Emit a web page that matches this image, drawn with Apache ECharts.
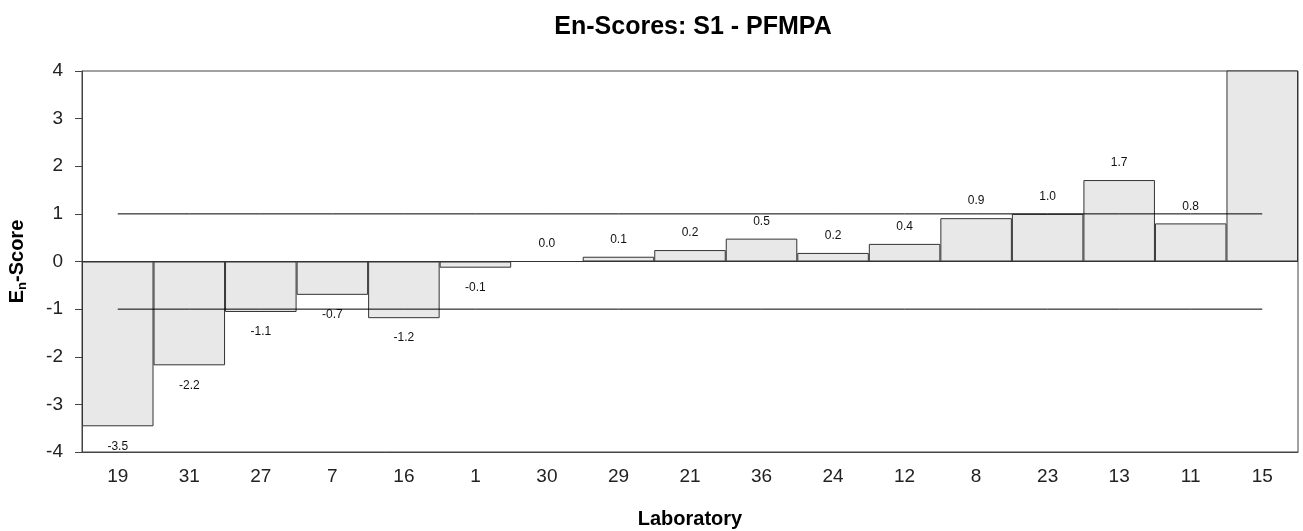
<!DOCTYPE html>
<html>
<head>
<meta charset="utf-8">
<title>En-Scores: S1 - PFMPA</title>
<script src="https://cdn.jsdelivr.net/npm/echarts@6/dist/echarts.min.js"></script>
<style>
  html, body { margin: 0; padding: 0; background: #fff; }
  #chart { width: 1303px; height: 531px; }
</style>
</head>
<body>
<div id="chart"></div>
<script>
// Laboratories in plotted order
const laboratories = ['19', '31', '27', '7', '16', '1', '30', '29', '21', '36', '24', '12', '8', '23', '13', '11', '15'];
// En-score per laboratory (lab 15 runs off the top of the scale)
const enScores = [-3.46, -2.18, -1.06, -0.70, -1.19, -0.13, 0.0, 0.10, 0.24, 0.48, 0.18, 0.37, 0.91, 1.0, 1.71, 0.80, 5.0];
// Acceptance limits drawn as horizontal lines
const upperLimit = 1;
const lowerLimit = -1;
// Value axis range and ticks
const yMin = -4, yMax = 4, yStep = 1;

const FONT = '"Liberation Sans", Arial, sans-serif';

const barData = enScores.map(function (v) {
  const outOfRange = v > yMax || v < yMin;
  return {
    value: v,
    label: outOfRange ? { show: false } : {
      show: true,
      position: v >= 0 ? 'top' : 'bottom',
      distance: v >= 0 ? 11 : 14
    }
  };
});

const chart = echarts.init(document.getElementById('chart'), null, { renderer: 'canvas' });

chart.setOption({
  animation: false,
  backgroundColor: '#ffffff',
  title: {
    text: 'En-Scores: S1 - PFMPA',
    left: 688,
    top: 10,
    textAlign: 'center',
    textStyle: { fontFamily: FONT, fontSize: 25, fontWeight: 'bold', color: '#000' }
  },
  grid: {
    left: 82, right: 5, top: 71, bottom: 79,
    outerBoundsMode: 'none',
    containLabel: false,
    show: true, borderColor: '#444', borderWidth: 1, backgroundColor: 'transparent'
  },
  xAxis: {
    type: 'category',
    data: laboratories,
    boundaryGap: true,
    name: 'Laboratory',
    nameLocation: 'middle',
    nameGap: 57,
    nameTextStyle: { fontFamily: FONT, fontSize: 20, fontWeight: 'bold', color: '#000', verticalAlign: 'top' },
    axisLine: { onZero: false, lineStyle: { color: '#444', width: 1 } },
    axisTick: { show: false },
    axisLabel: { fontFamily: FONT, fontSize: 19, color: '#222', margin: 15 },
    splitLine: { show: false }
  },
  yAxis: {
    type: 'value',
    min: yMin, max: yMax, interval: yStep,
    name: 'E{sub|n}-Score',
    nameLocation: 'middle',
    nameGap: 53,
    nameRotate: 90,
    nameTextStyle: {
      fontFamily: FONT, fontSize: 20, fontWeight: 'bold', color: '#000',
      rich: {
        sub: { fontFamily: FONT, fontSize: 13, fontWeight: 'bold', color: '#000', verticalAlign: 'bottom', padding: [10, 0, 0, 0] }
      }
    },
    axisLine: { show: true, lineStyle: { color: '#444', width: 1 } },
    axisTick: { show: true, inside: false, length: 7, lineStyle: { color: '#444' } },
    axisLabel: { fontFamily: FONT, fontSize: 19, color: '#222', margin: 19 },
    splitLine: { show: false }
  },
  series: [
    {
      type: 'bar',
      data: barData,
      barWidth: '100%',
      clip: true,
      itemStyle: { color: '#e8e8e8', borderColor: '#333', borderWidth: 1 },
      label: {
        fontFamily: FONT, fontSize: 12, color: '#111',
        formatter: function (p) { return p.value.toFixed(1); }
      },
      markLine: {
        silent: true,
        symbol: 'none',
        label: { show: false },
        lineStyle: { color: '#333', width: 1, type: 'solid' },
        data: [{ yAxis: 0 }]
      },
      z: 2
    },
    {
      type: 'line',
      data: laboratories.map(function () { return upperLimit; }),
      symbol: 'none',
      silent: true,
      lineStyle: { color: '#000', width: 1 },
      z: 3
    },
    {
      type: 'line',
      data: laboratories.map(function () { return lowerLimit; }),
      symbol: 'none',
      silent: true,
      lineStyle: { color: '#000', width: 1 },
      z: 3
    }
  ]
});
</script>
</body>
</html>
